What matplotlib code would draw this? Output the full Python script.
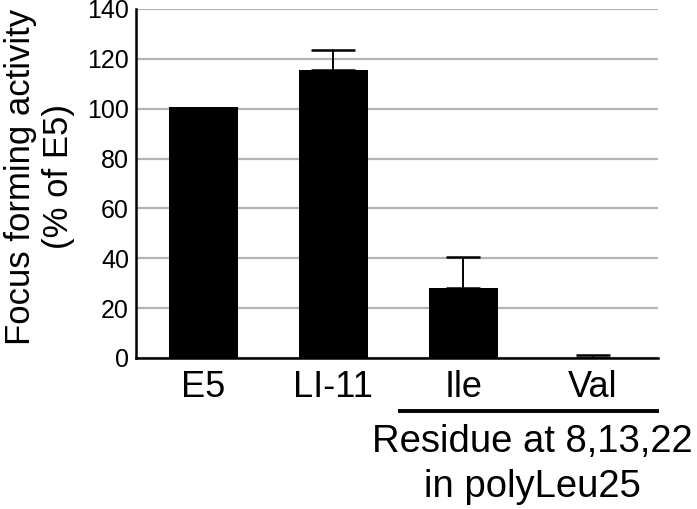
import matplotlib
matplotlib.use("Agg")
import matplotlib.pyplot as plt

plt.rcParams["font.family"] = ["Liberation Sans", "DejaVu Sans"]

# values
labels = ["E5", "LI-11", "Ile", "Val"]
activity = [100.5, 115.5, 28.2, 0.0]
err_upper = [0.0, 8.2, 12.5, 1.2]
yticks = [0, 20, 40, 60, 80, 100, 120, 140]
group_text = ["Residue at 8,13,22", "in polyLeu25"]

# cap widths differ a bit between bars in the original
capsizes = [0, 15.5, 12, 12]

fig = plt.figure(figsize=(6.97, 5.09), dpi=100)
ax = fig.add_axes([0.195, 0.2967, 0.749, 0.6857])

x = list(range(len(labels)))
ax.bar(x, activity, width=0.53, color="black", zorder=3)
for i in x:
    if err_upper[i] <= 0:
        continue
    ax.errorbar(i, activity[i], yerr=[[0], [err_upper[i]]], fmt="none",
                ecolor="black", elinewidth=1.4, capsize=capsizes[i],
                capthick=1.8, zorder=4)

ax.set_xlim(-0.52, 3.5)
ax.set_ylim(0, 140)
ax.set_yticks(yticks)
ax.set_xticks(x)
ax.set_xticklabels(labels, fontsize=26)
ax.tick_params(axis="y", labelsize=18, length=0, pad=5)
ax.tick_params(axis="x", length=0, pad=9)

ax.yaxis.grid(True, color="#b3b3b3", linewidth=1.6, zorder=0)
ax.set_axisbelow(True)
for s in ["top", "right"]:
    ax.spines[s].set_visible(False)
for s in ["left", "bottom"]:
    ax.spines[s].set_linewidth(1.8)
    ax.spines[s].set_zorder(5)

ax.set_ylabel("Focus forming activity\n(% of E5)", fontsize=25,
              linespacing=1.2)
ax.yaxis.set_label_coords(-0.117, 0.519)

# bracket under Ile / Val
trans = ax.get_xaxis_transform()
ax.plot([1.50, 3.51], [-0.152, -0.152], color="black", linewidth=2.8,
        transform=trans, clip_on=False, solid_capstyle="butt")
ax.text(2.53, -0.2693, group_text[0], transform=trans,
        ha="center", va="baseline", fontsize=27.5)
ax.text(2.53, -0.398, group_text[1], transform=trans,
        ha="center", va="baseline", fontsize=27.5)

fig.savefig("out.png", dpi=100)
